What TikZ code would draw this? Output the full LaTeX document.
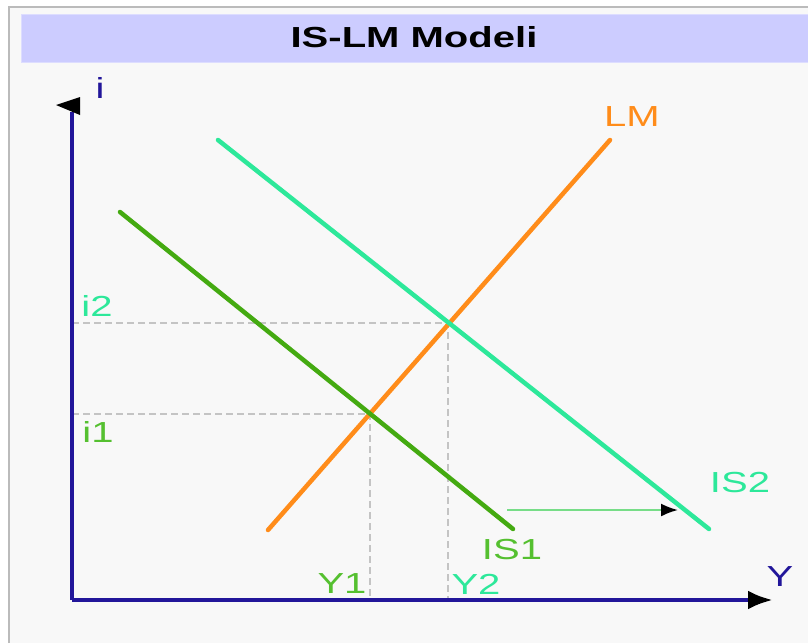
\documentclass[tikz,border=0pt]{standalone}
\usepackage{fontspec}
\setmainfont{Liberation Sans}
\usetikzlibrary{arrows.meta,calc}
\definecolor{titlebg}{HTML}{CCCCFF}
\definecolor{titleedge}{HTML}{DDDDFF}
\definecolor{panelbg}{HTML}{F8F8F8}
\definecolor{bordergray}{HTML}{BBBBBB}
\definecolor{guidegray}{HTML}{C4C4C4}
\definecolor{axisblue}{HTML}{22169A}
\definecolor{lmorange}{HTML}{FF8C1A}
\definecolor{isone}{HTML}{44AA11}
\definecolor{isonetext}{HTML}{55C030}
\definecolor{istwo}{HTML}{2DE89A}
\definecolor{shiftgreen}{HTML}{77DD88}
\newcommand{\widetext}[1]{\scalebox{1.38}[1]{#1}}

\begin{document}
\begin{tikzpicture}[x=1pt,y=-1pt,
    lbl/.style={inner sep=0pt, font=\fontsize{29}{34}\selectfont},
    curve/.style={line width=4.5pt, line cap=round},
    guide/.style={draw=guidegray, line width=1.5pt, dash pattern=on 7pt off 4pt},
    axisline/.style={draw=axisblue, line width=4.5pt}]
      % frame and title bar
      \useasboundingbox (0,0) rectangle (808,643);
      \fill[white] (0,0) rectangle (808,643);
      \fill[panelbg] (9,7) rectangle (808,643);
      \draw[bordergray, line width=2pt] (9,643) -- (9,7) -- (808,7);
      \draw[titleedge, fill=titlebg, line width=1pt] (21,14) rectangle (809,62);
      \node[lbl, font=\bfseries\fontsize{29}{34}\selectfont] (title) at (414,37) {\widetext{IS-LM Modeli}};

      % points
      \coordinate (O) at (72,600);
      \coordinate (itop) at (72,112);
      \coordinate (yend) at (773,600);
      \coordinate (lma) at (268,530);
      \coordinate (lmb) at (610,140);
      \coordinate (isa) at (120,212);
      \coordinate (isb) at (513,529);
      \coordinate (isc) at (218,140);
      \coordinate (isd) at (709,529);
      \coordinate (E1) at (370,414);
      \coordinate (E2) at (448,323);
      \coordinate (sa) at (507,510);
      \coordinate (sb) at (678,510);

      % guide lines
      \draw[guide] (E1 -| O) -- (E1) -- (E1 |- O);
      \draw[guide] (E2 -| O) -- (E2) -- (E2 |- O);

      % axes
      \draw[axisline] (O) -- (itop);
      \fill[black] (56,105) -- (80,97) -- (80,115) -- cycle;
      \draw[axisline, -{Latex[length=25pt,width=19pt,color=black]}] (O) -- (yend);

      % curves
      \draw[curve, lmorange] (lma) -- (lmb);
      \draw[curve, isone] (isa) -- (isb);
      \draw[curve, istwo] (isc) -- (isd);
      \draw[shiftgreen, line width=2pt, -{Latex[length=17pt,width=13pt,color=black]}] (sa) -- (sb);

      % labels
      \node[lbl, axisblue] (ilab) at (100,88) {\widetext{i}};
      \node[lbl, axisblue] (ylab) at (780,577) {\widetext{Y}};
      \node[lbl, lmorange] (lmlab) at (632,117) {\widetext{LM}};
      \node[lbl, isonetext] (is1lab) at (512,550) {\widetext{IS1}};
      \node[lbl, istwo] (is2lab) at (740,483) {\widetext{IS2}};
      \node[lbl, istwo] (i2lab) at (97,306) {\widetext{i2}};
      \node[lbl, isonetext] (i1lab) at (98,432) {\widetext{i1}};
      \node[lbl, isonetext] (y1lab) at (342,584) {\widetext{Y1}};
      \node[lbl, istwo] (y2lab) at (476,584) {\widetext{Y2}};
    \end{tikzpicture}
\end{document}
